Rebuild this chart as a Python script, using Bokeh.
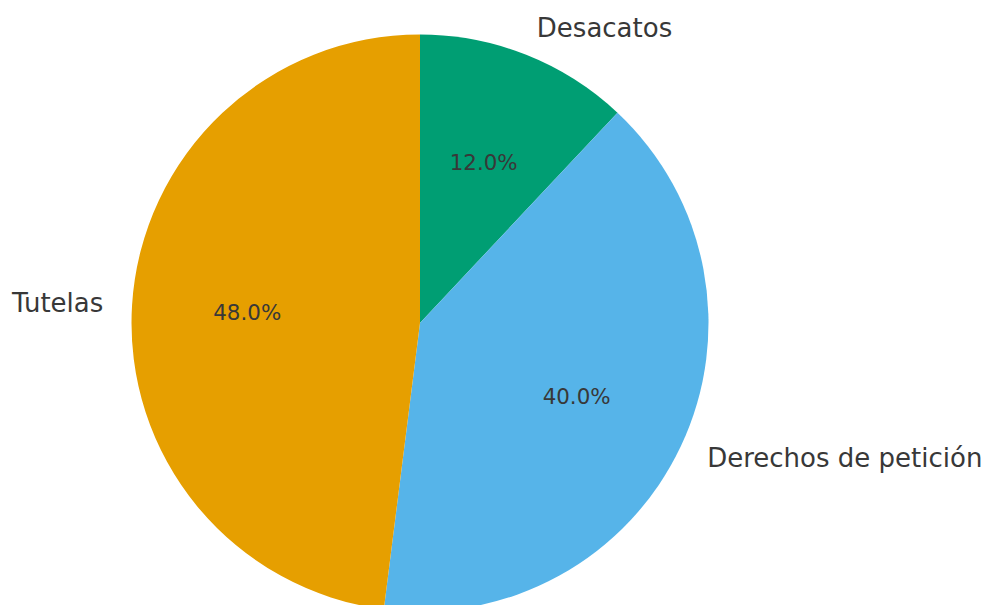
import numpy as np
from bokeh.plotting import figure
from bokeh.models import ColumnDataSource, Range1d
from bokeh.core.properties import value
from bokeh.embed import file_html
from bokeh.resources import INLINE

# Data
categories = ["Desacatos", "Derechos de petición", "Tutelas"]
counts = [12, 40, 48]
colors = ["#009E73", "#56B4E9", "#E69F00"]

W, H = 985, 605
R_PX = 288.5           # pie radius in pixels
CX, CY = 419.5, 322.5  # pie centre in pixels (from top-left)

vals = np.array(counts, dtype=float)
frac = vals / vals.sum()
cum_end = np.cumsum(frac)
cum_start = cum_end - frac

# clockwise from 12 o'clock
start_angle = np.pi / 2 - 2 * np.pi * cum_end
end_angle = np.pi / 2 - 2 * np.pi * cum_start
mid = np.pi / 2 - 2 * np.pi * (cum_start + frac / 2)

src = ColumnDataSource(dict(start=start_angle, end=end_angle, color=colors,
                            x=[0.0] * 3, y=[0.0] * 3))

lx = 1.1 * np.cos(mid)
ly = 1.1 * np.sin(mid)
align = ["left" if v > 0 else "right" for v in lx]
lab_src = ColumnDataSource(dict(x=lx, y=ly, text=categories, align=align))

px = 0.6 * np.cos(mid)
py = 0.6 * np.sin(mid)
pct_src = ColumnDataSource(dict(x=px, y=py, text=[f"{f*100:.1f}%" for f in frac]))

p = figure(width=W, height=H, output_backend="svg", toolbar_location=None,
           x_axis_location=None, y_axis_location=None, min_border=0,
           x_range=Range1d(-CX / R_PX, (W - CX) / R_PX),
           y_range=Range1d(-(H - CY) / R_PX, CY / R_PX))
p.grid.visible = False
p.outline_line_color = None
p.background_fill_color = "white"
p.border_fill_color = "white"

p.wedge(x="x", y="y", radius=1.0, start_angle="start", end_angle="end",
        fill_color="color", line_color=None, source=src)

p.text(x="x", y="y", text="text", text_align="align", text_baseline="middle",
       text_font=value("DejaVu Sans"), text_font_size="26px",
       text_color="#383838", source=lab_src)

p.text(x="x", y="y", text="text", text_align="center", text_baseline="middle",
       text_font=value("DejaVu Sans"), text_font_size="21.4px",
       text_color="#383838", source=pct_src)

open("out.html", "w").write(file_html(p, INLINE))
